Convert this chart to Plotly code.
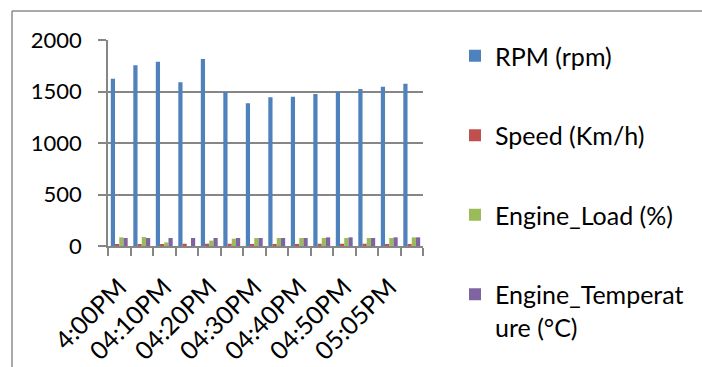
import plotly.graph_objects as go

times = ["4:00PM", "04:05PM", "04:10PM", "04:15PM", "04:20PM", "04:25PM", "04:30PM",
         "04:35PM", "04:40PM", "04:45PM", "04:50PM", "04:55PM", "05:05PM", "05:10PM"]
rpm = [1625, 1755, 1790, 1590, 1815, 1495, 1385, 1445, 1450, 1475, 1500, 1525, 1545, 1575]
speed = [16, 16, 16, 22, 22, 22, 20, 20, 20, 22, 22, 22, 20, 20]
engine_load = [84, 87, 35, 0, 52, 71, 78, 78, 78, 78, 78, 78, 78, 84]
engine_temp = [78, 78, 78, 78, 78, 78, 78, 78, 78, 84, 84, 78, 84, 84]

series = [
    ("RPM (rpm)", rpm, "#4F81BD"),
    ("Speed (Km/h)", speed, "#C0504D"),
    ("Engine_Load (%)", engine_load, "#9BBB59"),
    ("Engine_Temperat<br>ure (°C)", engine_temp, "#8064A2"),
]

x = list(range(len(times)))
fig = go.Figure()
for i, (name, vals, col) in enumerate(series):
    fig.add_trace(go.Bar(x=x, y=vals, name=name, marker_color=col,
                         marker_line_width=0, legendgroup=f"g{i}"))

W, H = 702, 367
L, R, T, B = 108, 279, 40, 121
pw, ph = W - L - R, H - T - B

def px_x(p):
    return (p - L) / pw

def px_y(p):
    return (H - B - p) / ph

grid = "#868686"
fig.update_layout(
    width=W, height=H,
    margin=dict(l=L, r=R, t=T, b=B, autoexpand=False),
    paper_bgcolor="white", plot_bgcolor="white",
    font=dict(family="Lato, Carlito, sans-serif", size=23, color="black"),
    barmode="group", bargap=0.25, bargroupgap=0,
    showlegend=True,
    legend=dict(x=px_x(455), y=px_y(33), xanchor="left", yanchor="top",
                traceorder="grouped", tracegroupgap=44, valign="top",
                maxheight=400,
                font=dict(size=25), bgcolor="rgba(0,0,0,0)"),
    xaxis=dict(range=[-0.5, len(times) - 0.5], tickmode="array",
               tickvals=x[::2], ticktext=times[::2], tickangle=-45,
               ticks="", showgrid=False, showline=True, linecolor=grid, linewidth=1.5,
               zeroline=False, ticklabelstandoff=15, tickfont=dict(size=25),
               minor=dict(ticks="outside", tick0=0.5, dtick=1, ticklen=8,
                          tickcolor=grid, tickwidth=1.5, showgrid=False)),
    yaxis=dict(range=[0, 2000], dtick=500, showgrid=True, gridcolor=grid, gridwidth=1.5,
               showline=True, linecolor=grid, linewidth=1.5, zeroline=False,
               ticks="outside", ticklen=8, tickcolor=grid, tickwidth=1.5,
               ticklabelstandoff=12, tickfont=dict(size=22)),
    shapes=[
        dict(type="line", xref="paper", yref="paper", x0=px_x(12), x1=px_x(W + 5),
             y0=px_y(11), y1=px_y(11), line=dict(color="#8c8c8c", width=1.5)),
        dict(type="line", xref="paper", yref="paper", x0=px_x(12), x1=px_x(12),
             y0=px_y(11), y1=px_y(H + 5), line=dict(color="#8c8c8c", width=1.5)),
    ],
)

fig.write_html("out.html", config={"displayModeBar": False},
               post_script="document.body.style.margin='0';document.body.style.overflow='hidden';")
